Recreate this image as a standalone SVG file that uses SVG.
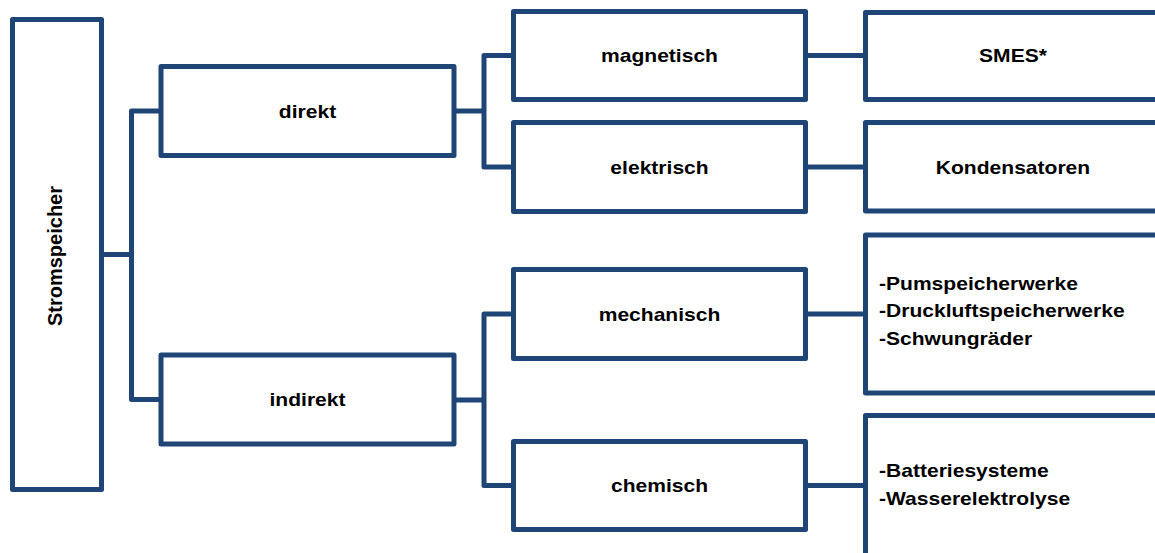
<svg xmlns="http://www.w3.org/2000/svg" width="1155" height="553" viewBox="0 0 1155 553">
<style>
.box{fill:#ffffff;stroke:#1f4577;stroke-width:5;stroke-linejoin:round}
.con{fill:none;stroke:#1f4577;stroke-width:5;stroke-linejoin:round;stroke-linecap:butt}
.t{font-family:"Liberation Sans",Arial,sans-serif;font-weight:bold;font-size:18px;fill:#000000}
.c{text-anchor:middle}
</style>
<rect width="1155" height="553" fill="#ffffff"/>
<g id="connectors">
<path class="con" d="M101.5,254.5 H131.5 M161,111 H131.5 V399.5 H161"/>
<path class="con" d="M454,111 H484 M513.5,55.5 H484 V167 H513.5"/>
<path class="con" d="M454,400 H484 M513.5,314 H484 V485.5 H513.5"/>
<path class="con" d="M805.5,55.5 H865.5 M805.5,167 H865.5 M805.5,314 H865.5 M805.5,485.5 H865.5"/>
</g>
<g id="stromspeicher">
<rect class="box" x="12.5" y="19.5" width="89" height="470"/>
<text class="t c" style="font-size:20px" transform="translate(62,256) rotate(-90)">Stromspeicher</text>
</g>
<g id="direkt">
<rect class="box" x="161" y="66.5" width="293" height="89"/>
<text class="t c" transform="translate(307.5,117.5) scale(1.17,1)">direkt</text>
</g>
<g id="indirekt">
<rect class="box" x="161" y="355" width="293" height="89"/>
<text class="t c" transform="translate(307.5,406) scale(1.17,1)">indirekt</text>
</g>
<g id="magnetisch">
<rect class="box" x="513.5" y="11.5" width="292" height="88"/>
<text class="t c" transform="translate(659.5,62) scale(1.17,1)">magnetisch</text>
</g>
<g id="elektrisch">
<rect class="box" x="513.5" y="122.5" width="292" height="89"/>
<text class="t c" transform="translate(659.5,173.5) scale(1.17,1)">elektrisch</text>
</g>
<g id="mechanisch">
<rect class="box" x="513.5" y="269.5" width="292" height="89"/>
<text class="t c" transform="translate(659.5,320.5) scale(1.17,1)">mechanisch</text>
</g>
<g id="chemisch">
<rect class="box" x="513.5" y="441.5" width="292" height="88"/>
<text class="t c" transform="translate(659.5,492) scale(1.17,1)">chemisch</text>
</g>
<g id="smes">
<rect class="box" x="865.5" y="12.5" width="295" height="87"/>
<text class="t c" transform="translate(1013,62) scale(1.17,1)">SMES*</text>
</g>
<g id="kondensatoren">
<rect class="box" x="865.5" y="122.5" width="295" height="88.5"/>
<text class="t c" transform="translate(1013,174) scale(1.17,1)">Kondensatoren</text>
</g>
<g id="mechanisch-list">
<rect class="box" x="865.5" y="235" width="295" height="158"/>
<text class="t" transform="translate(879,289.5) scale(1.17,1)">-Pumspeicherwerke</text>
<text class="t" transform="translate(879,317) scale(1.17,1)">-Druckluftspeicherwerke</text>
<text class="t" transform="translate(879,344.5) scale(1.17,1)">-Schwungräder</text>
</g>
<g id="chemisch-list">
<rect class="box" x="865.5" y="415.5" width="295" height="145"/>
<text class="t" transform="translate(879,477) scale(1.17,1)">-Batteriesysteme</text>
<text class="t" transform="translate(879,505) scale(1.17,1)">-Wasserelektrolyse</text>
</g>
</svg>
